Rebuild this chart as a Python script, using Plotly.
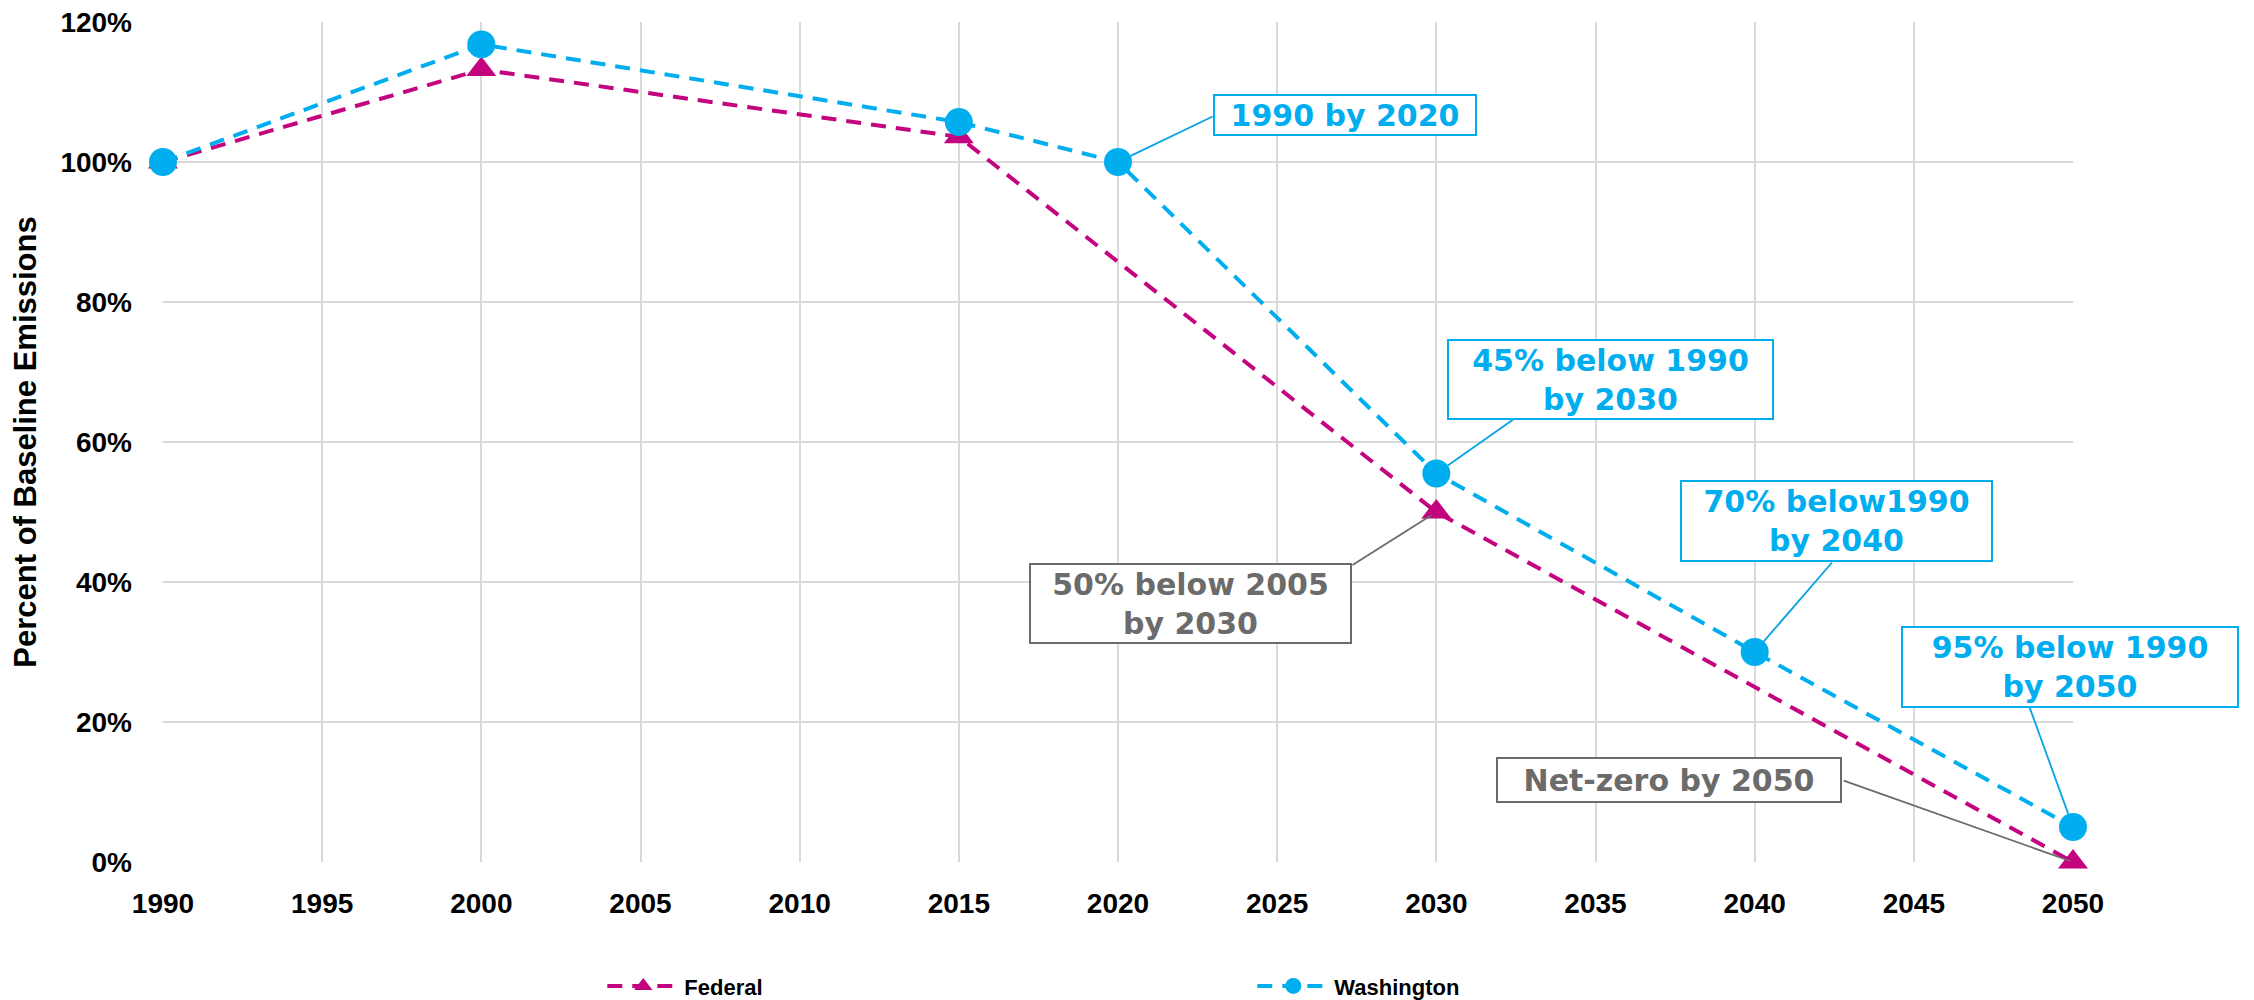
import plotly.graph_objects as go

# Emission pathways, share of baseline
fed_years = [1990, 2000, 2015, 2030, 2050]
fed_values = [1.00, 1.132, 1.036, 0.50, 0.0]

wa_years = [1990, 2000, 2015, 2020, 2030, 2040, 2050]
wa_values = [1.00, 1.168, 1.057, 1.00, 0.555, 0.30, 0.05]

# Target callouts and the series point each one points at
callout_text = [
    "1990 by 2020",
    "45% below 1990<br>by 2030",
    "70% below1990<br>by 2040",
    "95% below 1990<br>by 2050",
    "50% below 2005<br>by 2030",
    "Net-zero by 2050",
]
callout_series = ["wa", "wa", "wa", "wa", "fed", "fed"]
callout_year = [2020, 2030, 2040, 2050, 2030, 2050]

# callout placement (box centre, box size, where the leader line leaves the box)
box_x = [2027.14, 2035.46, 2042.56, 2049.9, 2022.29, 2037.3]
box_y = [1.067, 0.689, 0.487, 0.279, 0.369, 0.117]
box_w = [260, 323, 309, 334, 319, 342]
box_h = [38, 77, 78, 78, 77, 42]
tail_x = [2023.02, 2032.54, 2042.47, 2048.62, 2027.32, 2042.75]
tail_y = [1.066, 0.636, 0.430, 0.223, 0.423, 0.117]
head_gap = [14, 14, 14, 14, 6, 3]

x_ticks = list(range(1990, 2051, 5))
y_ticks = [0, 0.2, 0.4, 0.6, 0.8, 1.0, 1.2]

FED_COLOR = "#C4037F"
WA_COLOR = "#00AEEF"
WA_LINE = "#06A3E6"
GREY = "#6B6B6B"
BASE_FONT = "Liberation Sans, Arial, sans-serif"
NOTE_FONT = "DejaVu Sans, sans-serif"

fig = go.Figure()

fig.add_trace(go.Scatter(
    x=fed_years, y=fed_values,
    mode="lines+markers",
    name="Federal",
    line=dict(color=FED_COLOR, width=4, dash="15px,10px"),
    marker=dict(symbol="triangle-up", size=26, color=FED_COLOR),
    cliponaxis=False,
))
fig.add_trace(go.Scatter(
    x=wa_years, y=wa_values,
    mode="lines+markers",
    name="Washington",
    line=dict(color=WA_COLOR, width=4, dash="15px,10px"),
    marker=dict(symbol="circle", size=28, color=WA_COLOR),
    cliponaxis=False,
))

series_lookup = {
    "fed": dict(zip(fed_years, fed_values)),
    "wa": dict(zip(wa_years, wa_values)),
}

for i, text in enumerate(callout_text):
    ser = callout_series[i]
    yr = callout_year[i]
    color = WA_COLOR if ser == "wa" else GREY
    arrow_color = WA_LINE if ser == "wa" else GREY
    # leader line
    fig.add_annotation(
        x=yr, y=series_lookup[ser][yr],
        ax=tail_x[i], ay=tail_y[i], axref="x", ayref="y",
        text="", showarrow=True, arrowhead=0, arrowwidth=1.8,
        arrowcolor=arrow_color, standoff=head_gap[i],
    )
    # text box
    fig.add_annotation(
        x=box_x[i], y=box_y[i],
        text=f"<b>{text}</b>",
        showarrow=False,
        font=dict(family=NOTE_FONT, size=30, color=color),
        bordercolor=color, borderwidth=2, borderpad=0,
        bgcolor="white",
        width=box_w[i], height=box_h[i],
        align="center", valign="middle",
    )

fig.update_layout(
    width=2246, height=992,
    margin=dict(l=155, r=181, t=14, b=138, autoexpand=False),
    plot_bgcolor="white", paper_bgcolor="white",
    font=dict(family=BASE_FONT, size=26, color="black"),
    showlegend=True,
    legend=dict(
        orientation="h",
        x=0.23, xanchor="left",
        yref="container", y=0.014, yanchor="middle",
        font=dict(family=BASE_FONT, size=22, color="black", weight="bold"),
        itemwidth=72,
        entrywidth=563,
        traceorder="normal",
    ),
    xaxis=dict(
        range=[1990, 2050],
        tickvals=x_ticks,
        tickfont=dict(family=BASE_FONT, size=28, color="black", weight="bold"),
        showgrid=True, gridcolor="#D9D9D9", gridwidth=2,
        zeroline=False, showline=False,
        ticklabelstandoff=22,
        ticklabeloverflow="allow",
    ),
    yaxis=dict(
        range=[0, 1.2],
        tickvals=y_ticks,
        tickformat=".0%",
        tickfont=dict(family=BASE_FONT, size=28, color="black", weight="bold"),
        showgrid=True, gridcolor="#D9D9D9", gridwidth=2,
        zeroline=False, showline=False,
        ticklabelstandoff=30,
        ticklabeloverflow="allow",
        title=dict(
            text="Percent of Baseline Emissions",
            font=dict(family=BASE_FONT, size=31, color="black", weight="bold"),
            standoff=17,
        ),
    ),
)

fig.write_html("out.html")
